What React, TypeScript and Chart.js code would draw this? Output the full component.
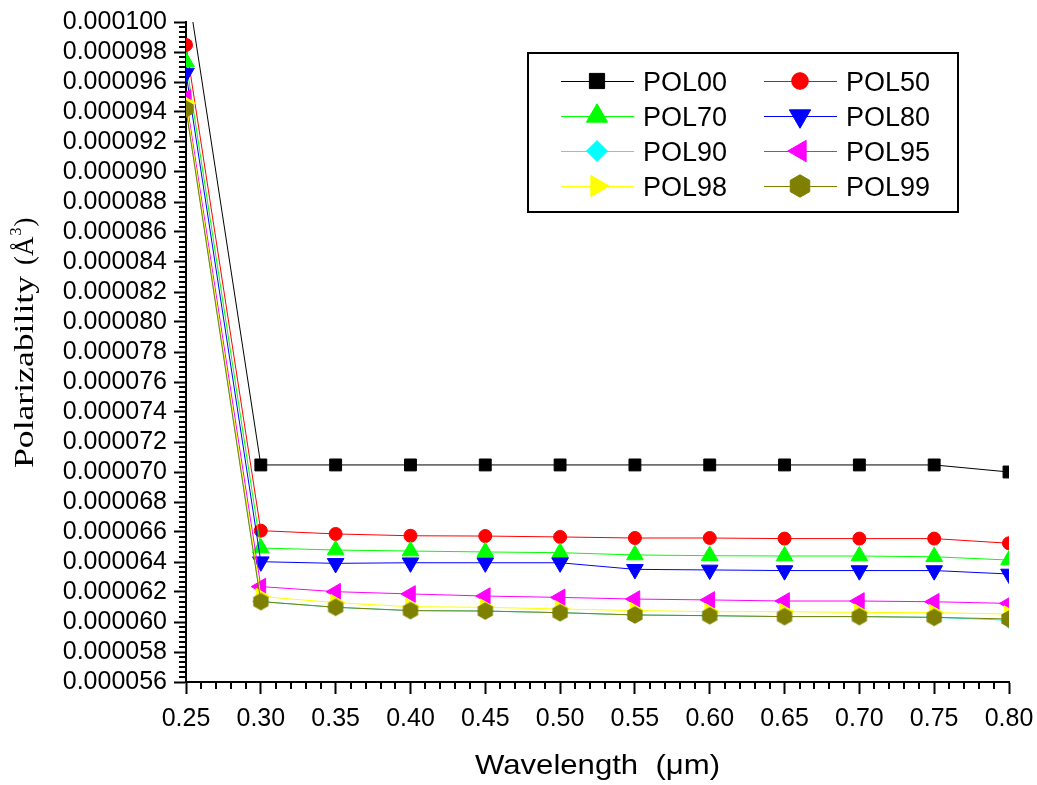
import React, { useEffect, useRef } from 'react';
import { Chart, registerables } from 'chart.js';

Chart.register(...registerables);

// ---------------- data ----------------
const wavelengths = [0.25, 0.30, 0.35, 0.40, 0.45, 0.50, 0.55, 0.60, 0.65, 0.70, 0.75, 0.80];

const pol00 = [103.0e-6, 70.47e-6, 70.47e-6, 70.47e-6, 70.47e-6, 70.47e-6, 70.47e-6, 70.47e-6, 70.47e-6, 70.47e-6, 70.47e-6, 70.0e-6];
const pol50 = [98.47e-6, 66.09e-6, 65.87e-6, 65.75e-6, 65.73e-6, 65.67e-6, 65.6e-6, 65.6e-6, 65.56e-6, 65.56e-6, 65.56e-6, 65.25e-6];
const pol70 = [97.35e-6, 64.93e-6, 64.8e-6, 64.73e-6, 64.67e-6, 64.62e-6, 64.47e-6, 64.42e-6, 64.4e-6, 64.4e-6, 64.35e-6, 64.13e-6];
const pol80 = [96.6e-6, 64.02e-6, 63.91e-6, 63.95e-6, 63.95e-6, 63.95e-6, 63.51e-6, 63.47e-6, 63.43e-6, 63.43e-6, 63.43e-6, 63.2e-6];
const pol90 = [94.3e-6, 61.36e-6, 60.98e-6, 60.76e-6, 60.73e-6, 60.62e-6, 60.47e-6, 60.42e-6, 60.36e-6, 60.36e-6, 60.31e-6, 60.12e-6];
const pol95 = [94.95e-6, 62.36e-6, 62.02e-6, 61.87e-6, 61.73e-6, 61.64e-6, 61.53e-6, 61.47e-6, 61.4e-6, 61.4e-6, 61.35e-6, 61.24e-6];
const pol98 = [94.6e-6, 61.7e-6, 61.29e-6, 61.02e-6, 60.98e-6, 60.87e-6, 60.76e-6, 60.69e-6, 60.69e-6, 60.64e-6, 60.62e-6, 60.53e-6];
const pol99 = [94.2e-6, 61.36e-6, 60.98e-6, 60.76e-6, 60.73e-6, 60.62e-6, 60.47e-6, 60.42e-6, 60.36e-6, 60.36e-6, 60.31e-6, 60.2e-6];

const seriesLabels = ['POL00', 'POL50', 'POL70', 'POL80', 'POL90', 'POL95', 'POL98', 'POL99'];
const seriesValues = [pol00, pol50, pol70, pol80, pol90, pol95, pol98, pol99];

const xTitle = 'Wavelength  (\u03BCm)';
const yTitle = 'Polarizability';
const yUnit = '(\u00C5';

// ---------------- styles ----------------
const colors = ['#000000', '#ff0000', '#00ff00', '#0000ff', '#00ffff', '#ff00ff', '#ffff00', '#808000'];
type Marker = { kind: string; rotation: number; radius: number };
const markers: Marker[] = [
  { kind: 'rect', rotation: 0, radius: 8.4 },
  { kind: 'circle', rotation: 0, radius: 6.5 },
  { kind: 'triangle', rotation: 0, radius: 9.6 },
  { kind: 'triangle', rotation: 180, radius: 9.6 },
  { kind: 'rectRot', rotation: 0, radius: 8.2 },
  { kind: 'triangle', rotation: 270, radius: 9.6 },
  { kind: 'triangle', rotation: 90, radius: 9.6 },
  { kind: 'hexagon', rotation: 0, radius: 8.8 },
];

function hexPath(ctx: CanvasRenderingContext2D, cx: number, cy: number, r: number) {
  ctx.beginPath();
  for (let k = 0; k < 6; k++) {
    const a = -Math.PI / 2 + (k * Math.PI) / 3;
    const px = cx + r * Math.cos(a);
    const py = cy + r * Math.sin(a);
    if (k === 0) ctx.moveTo(px, py);
    else ctx.lineTo(px, py);
  }
  ctx.closePath();
}

function makeHexagon(r: number, color: string) {
  const c = document.createElement('canvas');
  const size = Math.ceil(r * 2) + 2;
  c.width = size;
  c.height = size;
  const ctx = c.getContext('2d')!;
  ctx.fillStyle = color;
  hexPath(ctx, size / 2, size / 2, r);
  ctx.fill();
  return c;
}

function drawMarker(ctx: CanvasRenderingContext2D, m: Marker, x: number, y: number, scale: number, color: string) {
  const r = m.radius * scale;
  ctx.save();
  ctx.fillStyle = color;
  ctx.strokeStyle = color;
  ctx.lineWidth = 1;
  ctx.translate(x, y);
  ctx.rotate((m.rotation * Math.PI) / 180);
  ctx.beginPath();
  if (m.kind === 'rect') {
    const s = Math.SQRT1_2 * r;
    ctx.rect(-s, -s, 2 * s, 2 * s);
  } else if (m.kind === 'circle') {
    ctx.arc(0, 0, r, 0, Math.PI * 2);
  } else if (m.kind === 'triangle') {
    ctx.moveTo(0, -r);
    ctx.lineTo(r * Math.sin((2 * Math.PI) / 3), -r * Math.cos((2 * Math.PI) / 3));
    ctx.lineTo(r * Math.sin((4 * Math.PI) / 3), -r * Math.cos((4 * Math.PI) / 3));
    ctx.closePath();
  } else if (m.kind === 'rectRot') {
    ctx.moveTo(0, -r);
    ctx.lineTo(r, 0);
    ctx.lineTo(0, r);
    ctx.lineTo(-r, 0);
    ctx.closePath();
  } else if (m.kind === 'hexagon') {
    hexPath(ctx, 0, 0, r);
  }
  ctx.fill();
  ctx.stroke();
  ctx.restore();
}

function drawStretched(ctx: CanvasRenderingContext2D, text: string, x: number, y: number, width: number) {
  const w = ctx.measureText(text).width;
  ctx.save();
  ctx.translate(x, y);
  ctx.scale(width / w, 1);
  ctx.fillText(text, 0, 0);
  ctx.restore();
}

const minorTicks = {
  id: 'minorTicks',
  afterDraw(chart: any) {
    const { ctx, chartArea } = chart;
    const xs = chart.scales.x;
    const ys = chart.scales.y;
    ctx.save();
    ctx.strokeStyle = '#000';
    ctx.lineWidth = 2;
    ctx.beginPath();
    for (let i = 0; i <= 55; i++) {
      if (i % 5 === 0) continue;
      const px = Math.round(xs.getPixelForValue(0.25 + i * 0.01));
      ctx.moveTo(px, chartArea.bottom);
      ctx.lineTo(px, chartArea.bottom + 7);
    }
    for (let j = 0; j <= 132; j++) {
      if (j % 6 === 0) continue;
      const py = Math.round(ys.getPixelForValue(0.000056 + (j * 0.000002) / 6));
      ctx.moveTo(chartArea.left, py);
      ctx.lineTo(chartArea.left - 7, py);
    }
    ctx.stroke();
    ctx.restore();
  },
};

const titlesAndLegend = {
  id: 'titlesAndLegend',
  afterDraw(chart: any) {
    const ctx: CanvasRenderingContext2D = chart.ctx;
    const area = chart.chartArea;
    ctx.save();
    ctx.fillStyle = '#000';
    // x title
    ctx.font = '28px "Liberation Sans", Arial, sans-serif';
    ctx.textBaseline = 'alphabetic';
    const xw = 245;
    drawStretched(ctx, xTitle, (area.left + area.right) / 2 - xw / 2, 774, xw);

    // y title (rotated)
    ctx.save();
    ctx.translate(33, 468);
    ctx.rotate(-Math.PI / 2);
    ctx.font = '27px "Liberation Serif", "Times New Roman", serif';
    drawStretched(ctx, yTitle, 0, 0, 192);
    let xo = 203;
    ctx.fillText(yUnit, xo, 0);
    xo += ctx.measureText(yUnit).width;
    ctx.font = '16px "Liberation Serif", "Times New Roman", serif';
    ctx.fillText('3', xo + 1, -12);
    xo += ctx.measureText('3').width + 2;
    ctx.font = '27px "Liberation Serif", "Times New Roman", serif';
    ctx.fillText(')', xo, 0);
    ctx.restore();

    // legend
    ctx.lineWidth = 2;
    ctx.strokeStyle = '#000';
    ctx.strokeRect(528, 53, 430, 159);
    ctx.font = '27px "Liberation Sans", Arial, sans-serif';
    chart.data.datasets.forEach((ds: any, i: number) => {
      const col = i % 2;
      const row = Math.floor(i / 2);
      const yc = 81 + row * 35;
      const x0 = col === 0 ? 561 : 764;
      ctx.strokeStyle = colors[i];
      ctx.lineWidth = 1;
      ctx.beginPath();
      ctx.moveTo(x0, yc + 0.5);
      ctx.lineTo(x0 + 73, yc + 0.5);
      ctx.stroke();
      drawMarker(ctx, markers[i], x0 + 36, yc, 1.28, colors[i]);
      ctx.fillStyle = '#000';
      ctx.textBaseline = 'alphabetic';
      ctx.fillText(ds.label, x0 + 82, yc + 10);
    });
    ctx.restore();
  },
};

export default function App() {
  const ref = useRef<HTMLCanvasElement | null>(null);

  useEffect(() => {
    document.body.style.margin = '0';
    const canvas = ref.current!;
    const datasets = seriesLabels.map((label, i) => {
      const m = markers[i];
      const ps: any = m.kind === 'hexagon' ? makeHexagon(m.radius, colors[i]) : m.kind;
      return {
        label,
        data: wavelengths.map((x, k) => ({ x, y: seriesValues[i][k] })),
        borderColor: colors[i],
        backgroundColor: colors[i],
        borderWidth: 1,
        pointStyle: ps,
        pointRotation: m.rotation,
        pointRadius: m.radius,
        pointHoverRadius: m.radius,
        pointBackgroundColor: colors[i],
        pointBorderColor: colors[i],
        pointBorderWidth: 1,
        tension: 0,
        fill: false,
        order: 7 - i,
      };
    });

    const tickFont = { family: '"Liberation Sans", Arial, sans-serif', size: 25 };

    const chart = new Chart(canvas, {
      type: 'line',
      data: { datasets },
      options: {
        animation: false,
        responsive: false,
        devicePixelRatio: 1,
        layout: { padding: { left: 0, right: 28, top: 22, bottom: 0 } },
        plugins: { legend: { display: false }, tooltip: { enabled: false } },
        scales: {
          x: {
            type: 'linear',
            min: 0.25,
            max: 0.8,
            afterFit: (s: any) => { s.height = 103; s.paddingLeft = 0; s.paddingRight = 0; },
            border: { display: true, color: '#000', width: 2 },
            grid: { drawOnChartArea: false, drawTicks: true, tickLength: 12, tickWidth: 2, tickColor: '#000' },
            ticks: {
              stepSize: 0.05,
              autoSkip: false,
              maxRotation: 0,
              color: '#000',
              font: tickFont,
              padding: 10,
              callback: (v: any) => Number(v).toFixed(2),
            },
          },
          y: {
            type: 'linear',
            min: 0.000056,
            max: 0.0001,
            afterFit: (s: any) => { s.width = 186; s.paddingTop = 0; s.paddingBottom = 0; },
            border: { display: true, color: '#000', width: 2 },
            grid: { drawOnChartArea: false, drawTicks: true, tickLength: 12, tickWidth: 2, tickColor: '#000' },
            ticks: {
              stepSize: 0.000002,
              autoSkip: false,
              color: '#000',
              font: tickFont,
              padding: 7,
              callback: (v: any) => Number(v).toFixed(6),
            },
          },
        },
      },
      plugins: [minorTicks, titlesAndLegend],
    });
    return () => chart.destroy();
  }, []);

  return (
    <div style={{ width: 1037, height: 785 }}>
      <canvas ref={ref} width={1037} height={785} style={{ display: 'block' }} />
    </div>
  );
}
